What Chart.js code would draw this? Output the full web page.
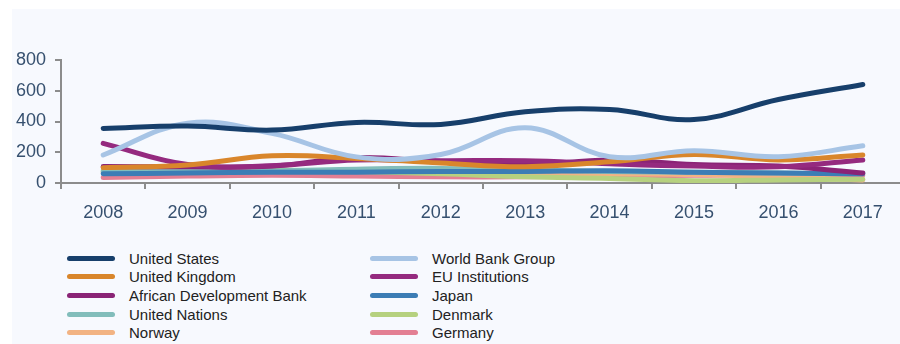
<!DOCTYPE html>
<html>
<head>
<meta charset="utf-8">
<script src="https://cdn.jsdelivr.net/npm/chart.js@4"></script>
<style>
  html, body { margin: 0; padding: 0; width: 900px; height: 344px; overflow: hidden; background: #fff; }
  #panel { position: absolute; left: 12px; top: 9px; right: 0; bottom: 0; background: #f7f9fe; }
  #wrap { position: absolute; left: 0; top: 0; width: 920px; height: 232px; }
  #legend {
    position: absolute; left: 67px; top: 249px;
    display: grid; grid-template-columns: 303px 300px; grid-auto-rows: 18.6px;
    font-family: "Liberation Sans", Arial, sans-serif; font-size: 15px; color: #222;
  }
  .item { display: flex; align-items: center; white-space: nowrap; }
  .swatch { width: 48px; height: 5px; border-radius: 3px; margin-right: 14px; }
</style>
</head>
<body>
<div id="panel"></div>
<div id="wrap"><canvas id="chart" width="920" height="232"></canvas></div>
<div id="legend"></div>
<script>
const YEARS = ["2008", "2009", "2010", "2011", "2012", "2013", "2014", "2015", "2016", "2017"];

// values (approximate)
const unitedStates = [355, 370, 344, 394, 381, 463, 478, 413, 543, 641];
const worldBank = [182, 389, 323, 170, 185, 359, 171, 210, 171, 242];
const unitedKingdom = [100, 117, 177, 160, 130, 106, 138, 186, 150, 182];
const euInstitutions = [258, 120, 112, 150, 145, 145, 125, 110, 105, 150];
const africanDevBank = [107, 105, 110, 165, 135, 115, 150, 120, 110, 65];
const japan = [60, 65, 70, 70, 75, 75, 80, 70, 65, 60];
const unitedNations = [75, 80, 80, 90, 95, 85, 75, 70, 65, 60];
const denmark = [85, 95, 85, 75, 60, 40, 30, 15, 20, 25];
const norway = [70, 75, 75, 80, 70, 65, 60, 55, 40, 20];
const germany = [35, 45, 50, 45, 40, 40, 45, 50, 55, 50];

const SERIES = [
  ["United States", unitedStates, "#173f6b"],
  ["World Bank Group", worldBank, "#a7c4e5"],
  ["United Kingdom", unitedKingdom, "#d9862b"],
  ["EU Institutions", euInstitutions, "#952a7f"],
  ["African Development Bank", africanDevBank, "#8a2476"],
  ["Japan", japan, "#3c7db5"],
  ["United Nations", unitedNations, "#82bdbb"],
  ["Denmark", denmark, "#b6d17f"],
  ["Norway", norway, "#f2b383"],
  ["Germany", germany, "#e37f93"],
];

const AXIS_COLOR = "#8c8c8c";
const LABEL_COLOR = "#36506f";

const ctx = document.getElementById("chart").getContext("2d");
const chart = new Chart(ctx, {
  type: "line",
  data: {
    labels: YEARS,
    datasets: SERIES.map(([label, data, color]) => ({
      label,
      data,
      borderColor: color,
      backgroundColor: color,
      borderWidth: 5,
      borderCapStyle: "round",
      tension: 0.4,
      pointRadius: 0,
      fill: false,
    })),
  },
  options: {
    responsive: false,
    animation: false,
    layout: { padding: { top: 60, right: 15, left: 0, bottom: 0 } },
    scales: {
      x: {
        offset: true,
        grid: { offset: true, drawOnChartArea: false, tickLength: 6, color: AXIS_COLOR, lineWidth: 2 },
        border: { color: AXIS_COLOR, width: 2 },
        ticks: {
          color: LABEL_COLOR,
          padding: 13,
          maxRotation: 0,
          font: { family: "Liberation Sans", size: 18 },
        },
        afterFit: (s) => { s.height = 49; },
      },
      y: {
        min: 0,
        max: 800,
        grid: { drawOnChartArea: false, tickLength: 6, color: AXIS_COLOR, lineWidth: 2 },
        border: { color: AXIS_COLOR, width: 2 },
        ticks: {
          stepSize: 200,
          color: LABEL_COLOR,
          padding: 9,
          font: { family: "Liberation Sans", size: 18 },
        },
        afterFit: (s) => { s.width = 61; },
      },
    },
    plugins: {
      legend: { display: false },
      tooltip: { enabled: false },
    },
  },
});

// legend, two columns, built from the datasets
const legendEl = document.getElementById("legend");
chart.data.datasets.forEach((ds) => {
  const item = document.createElement("div");
  item.className = "item";
  item.innerHTML = `<span class="swatch" style="background:${ds.borderColor}"></span>${ds.label}`;
  legendEl.appendChild(item);
});
</script>
</body>
</html>
